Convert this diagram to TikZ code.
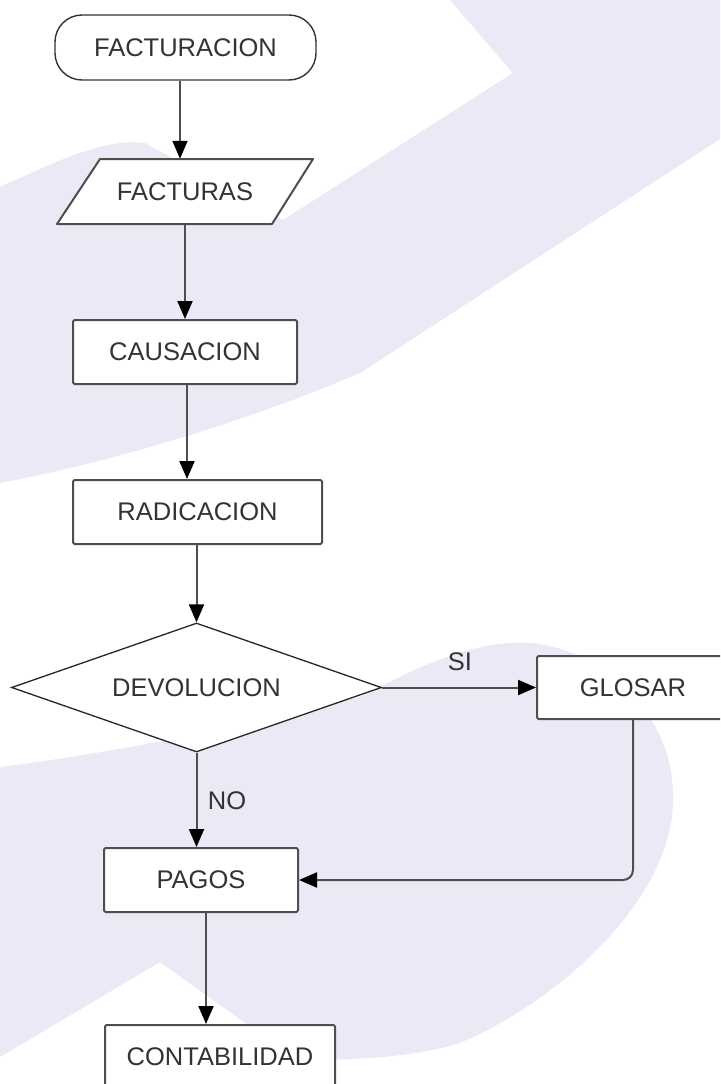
\documentclass[tikz,border=0pt]{standalone}
\usepackage{fontspec}
\setmainfont{Liberation Sans}
\usetikzlibrary{shapes.geometric,arrows.meta}
\definecolor{wm}{RGB}{234,233,245}
\definecolor{txt}{RGB}{51,51,51}
\definecolor{ln}{RGB}{78,78,78}
\begin{document}
\begin{tikzpicture}[x=1pt,y=-1pt,
  every node/.style={font=\fontsize{25.5}{28}\selectfont, text=txt, inner sep=0pt},
  procbox/.style={draw=ln, line width=2pt, fill=white, rounded corners=1.5pt, minimum height=64pt},
  termbox/.style={draw=txt, line width=1.4pt, fill=white, rounded corners=27pt, minimum width=261pt, minimum height=65pt},
  decbox/.style={diamond, draw=black!85, line width=1.3pt, fill=white, shape aspect=2.87, minimum width=370pt, minimum height=129pt},
  iobox/.style={draw=ln, line width=2pt, fill=white, line join=round},
  arr/.style={draw=ln, line width=2pt, -{Triangle[length=18pt,width=15pt,color=black]}}
]
\useasboundingbox (0,0) rectangle (720,1084);
\clip (0,0) rectangle (720,1084);
\fill[white] (0,0) rectangle (720,1084);
% watermark
\fill[wm] (450,0) -- (720,0) -- (720,139) -- (360,373)
  .. controls (250,420) and (120,460) .. (0,483) -- (0,187)
  .. controls (50,165) and (100,138) .. (145,143) -- (283,220) -- (513,73) -- cycle;
\fill[wm] (0,767) .. controls (120,752) and (250,725) .. (360,697)
  .. controls (430,660) and (480,640) .. (530,643)
  .. controls (610,650) and (675,720) .. (673,800)
  .. controls (672,900) and (560,1000) .. (460,1043)
  .. controls (420,1055) and (380,1058) .. (330,1060)
  -- (300,1062) -- (160,962) -- (0,1057) -- cycle;
% parallelogram outline
\draw[iobox] (100,159) -- (313,159) -- (272,224) -- (57,224) -- cycle;
% nodes
\node[termbox] (t) at (185.5,47.5) {FACTURACION};
\node[minimum width=213pt, minimum height=65pt] (fa) at (185,191.5) {FACTURAS};
\node[procbox, minimum width=224pt] (ca) at (185,352) {CAUSACION};
\node[procbox, minimum width=249pt] (ra) at (197.5,512) {RADICACION};
\node[decbox] (dv) at (196.5,687.5) {DEVOLUCION};
\node[procbox, minimum width=192pt, minimum height=63pt] (gl) at (633,687.5) {GLOSAR};
\node[procbox, minimum width=194pt] (pg) at (201,880) {PAGOS};
\node[procbox, minimum width=230pt] (co) at (220,1057) {CONTABILIDAD};
\node (si) at (460,662) {SI};
\node (no) at (227,801) {NO};
% connectors
\draw[arr] ([xshift=-5.5pt]t.south) -- ([xshift=-5.5pt]t.south |- fa.north);
\draw[arr] (fa.south) -- (fa.south |- ca.north);
\draw[arr] ([xshift=2pt]ca.south) -- ([xshift=2pt]ca.south |- ra.north);
\draw[arr] (dv.north |- ra.south) -- (dv.north);
\draw[arr] (dv.east) -- (gl.west);
\draw[arr] (dv.south) -- (dv.south |- pg.north);
\draw[arr, rounded corners=10pt] (gl.south) |- (pg.east);
\draw[arr] ([xshift=5pt]pg.south) -- ([xshift=5pt]pg.south |- co.north);
\end{tikzpicture}
\end{document}
